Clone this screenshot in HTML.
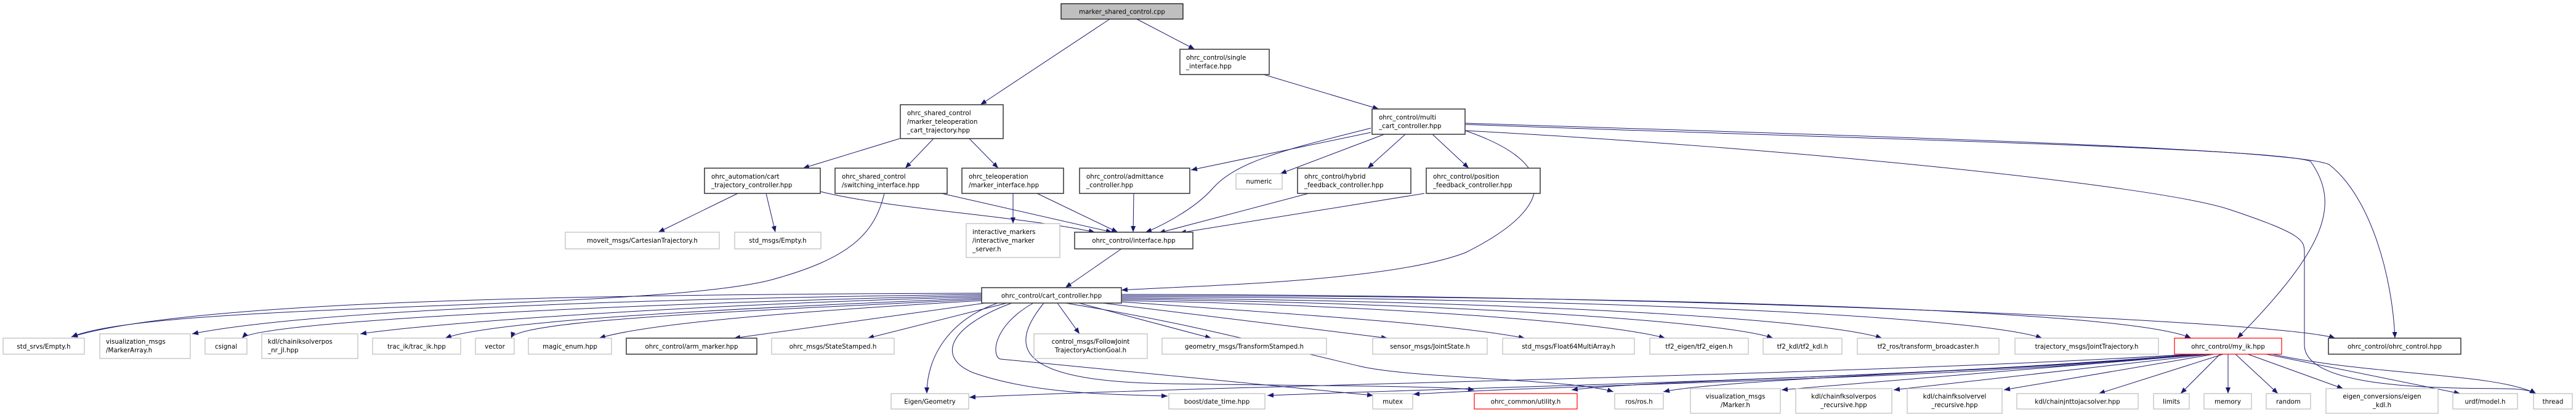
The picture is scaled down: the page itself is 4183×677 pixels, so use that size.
<!DOCTYPE html>
<html><head><meta charset="utf-8"><style>
html,body{margin:0;padding:0;background:#fff;}
svg{display:block;}
text{font-family:"DejaVu Sans","Liberation Sans",sans-serif;font-size:10.3px;fill:#000;}
.c{text-anchor:middle;}
.g{fill:#fff;stroke:#bfbfbf;stroke-width:1.3;}
.b{fill:#fff;stroke:#404040;stroke-width:1.6;}
.r{fill:#fff;stroke:#ff0000;stroke-width:1.2;}
.e{fill:none;stroke:#191970;stroke-width:1;}
</style></head><body>
<svg width="4183" height="677" viewBox="0 0 4183 677" xmlns="http://www.w3.org/2000/svg">
<defs><marker id="a" markerUnits="userSpaceOnUse" markerWidth="11" markerHeight="8" refX="10" refY="4" orient="auto"><path d="M0,0 L10,4 L0,8 z" fill="#191970"/></marker></defs>
<g class="e" marker-end="url(#a)">
<path d="M1802,31 L1592,170"/>
<path d="M1846,31 L1940,80"/>
<path d="M2052,121 L2239,177"/>
<path d="M1461,225 L1304,273"/>
<path d="M1516,225 L1470,273"/>
<path d="M1574,225 L1621,273"/>
<path d="M1198,314 L1069,377"/>
<path d="M1244,314 L1259,377"/>
<path d="M1332,311 C1450,340 1650,350 1778,377"/>
<path d="M1529,314 L1806,377"/>
<path d="M1436,314 C1420,380 1380,420 1250,455 C1050,505 250,490 116,547"/>
<path d="M1645,314 L1645,363"/>
<path d="M1684,314 L1815,377"/>
<path d="M1841,314 L1840,377"/>
<path d="M2226,215 L1934,276"/>
<path d="M2226,208 C2100,240 2010,260 1970,305 C1940,340 1880,370 1860,377"/>
<path d="M2248,218 L2079,282"/>
<path d="M2282,218 L2221,273"/>
<path d="M2326,218 L2385,273"/>
<path d="M2125,314 L1882,378"/>
<path d="M2313,314 L1916,378"/>
<path d="M2379,212 C2520,260 2540,330 2380,410 C2250,460 1900,465 1821,471"/>
<path d="M1821,404 L1730,467"/>
<path d="M2379,200 C3000,220 3720,240 3782,267 C3850,320 3885,450 3889,549"/>
<path d="M2379,202 C3000,225 3700,240 3752,262 C3800,330 3780,400 3633,549"/>
<path d="M2379,212 C2900,240 3500,300 3620,340 C3740,380 3742,390 3742,410 L3742,560 C3742,620 3900,628 3990,630 C4060,632 4100,628 4118,639"/>
<path d="M1594,476 C900,478 300,490 116,547"/>
<path d="M1594,478 C1000,485 500,505 312,542"/>
<path d="M1594,480 C1100,490 420,520 393,549"/>
<path d="M1594,482 C1100,495 700,525 585,542"/>
<path d="M1594,484 C1200,500 800,520 723,549"/>
<path d="M1594,486 C1200,505 840,520 830,549"/>
<path d="M1594,488 C1300,505 1050,525 973,549"/>
<path d="M1600,492 L1192,549"/>
<path d="M1635,492 L1409,549"/>
<path d="M1717,492 L1753,542"/>
<path d="M1752,492 L1967,549"/>
<path d="M1790,492 L2253,549"/>
<path d="M1821,490 C2100,510 2350,525 2476,549"/>
<path d="M1821,488 C2200,495 2600,520 2704,549"/>
<path d="M1821,486 C2300,490 2800,520 2879,549"/>
<path d="M1821,484 C2400,487 2950,515 3056,549"/>
<path d="M1821,482 C2500,482 3200,510 3316,549"/>
<path d="M1821,480 C2600,480 3450,500 3558,549"/>
<path d="M1821,478 C2700,478 3700,520 3792,549"/>
<path d="M1620,492 C1540,520 1505,580 1505,639"/>
<path d="M1643,492 C1540,530 1520,580 1580,605 C1680,640 1800,640 1896,643"/>
<path d="M1678,492 C1610,530 1610,580 1625,583 L2230,642"/>
<path d="M1695,492 C1640,560 1640,620 1900,623 C2200,627 2350,627 2394,633"/>
<path d="M1730,492 C1900,520 1980,540 2210,595 C2300,615 2550,615 2620,636"/>
<path d="M3560,575 C3000,610 2000,625 1574,645"/>
<path d="M3565,575 C3100,615 2500,625 2058,642"/>
<path d="M3570,575 C3200,615 2600,622 2295,640"/>
<path d="M3575,575 C3200,610 2700,615 2552,633"/>
<path d="M3580,575 C3300,600 2800,615 2701,636"/>
<path d="M3585,575 L2893,633"/>
<path d="M3590,575 L3075,633"/>
<path d="M3595,575 L3254,633"/>
<path d="M3610,575 L3408,639"/>
<path d="M3605,575 L3541,639"/>
<path d="M3618,575 L3618,639"/>
<path d="M3630,575 L3699,639"/>
<path d="M3650,575 L3805,631"/>
<path d="M3680,575 L3995,639"/>
<path d="M3690,575 C3850,610 4050,605 4118,639"/>
</g>
<!-- nodes -->
<rect x="1723" y="6" width="198" height="25" fill="#bfbfbf" stroke="#000" stroke-width="1.2"/><text class="c" x="1822" y="22.5">marker_shared_control.cpp</text>
<rect class="b" x="1916" y="80" width="145" height="41"/><text x="1926" y="97">ohrc_control/single</text><text x="1926" y="111">_interface.hpp</text>
<rect class="b" x="1462" y="170" width="167" height="55"/><text x="1473" y="187">ohrc_shared_control</text><text x="1473" y="201">/marker_teleoperation</text><text x="1473" y="215">_cart_trajectory.hpp</text>
<rect class="b" x="2228" y="177" width="151" height="41"/><text x="2239" y="194">ohrc_control/multi</text><text x="2239" y="208">_cart_controller.hpp</text>
<rect class="b" x="1144" y="273" width="188" height="41"/><text x="1155" y="290">ohrc_automation/cart</text><text x="1155" y="304">_trajectory_controller.hpp</text>
<rect class="b" x="1356" y="273" width="182" height="41"/><text x="1367" y="290">ohrc_shared_control</text><text x="1367" y="304">/switching_interface.hpp</text>
<rect class="b" x="1562" y="273" width="165" height="41"/><text x="1573" y="290">ohrc_teleoperation</text><text x="1573" y="304">/marker_interface.hpp</text>
<rect class="b" x="1753" y="273" width="179" height="41"/><text x="1764" y="290">ohrc_control/admittance</text><text x="1764" y="304">_controller.hpp</text>
<rect class="g" x="2007" y="282" width="75" height="25"/><text class="c" x="2044.5" y="298">numeric</text>
<rect class="b" x="2107" y="273" width="184" height="41"/><text x="2118" y="290">ohrc_control/hybrid</text><text x="2118" y="304">_feedback_controller.hpp</text>
<rect class="b" x="2316" y="273" width="185" height="41"/><text x="2327" y="290">ohrc_control/position</text><text x="2327" y="304">_feedback_controller.hpp</text>
<rect class="g" x="918" y="377" width="250" height="27"/><text class="c" x="1043" y="394">moveit_msgs/CartesianTrajectory.h</text>
<rect class="g" x="1193" y="377" width="140" height="27"/><text class="c" x="1263" y="394">std_msgs/Empty.h</text>
<rect class="g" x="1569" y="363" width="152" height="55"/><text x="1579" y="380">interactive_markers</text><text x="1579" y="394">/interactive_marker</text><text x="1579" y="408">_server.h</text>
<rect class="b" x="1745" y="377" width="192" height="27"/><text class="c" x="1841" y="394">ohrc_control/interface.hpp</text>
<rect class="b" x="1594" y="467" width="227" height="25"/><text class="c" x="1707.5" y="483.5">ohrc_control/cart_controller.hpp</text>
<!-- row 1 -->
<rect class="g" x="5" y="549" width="132" height="26"/><text class="c" x="71" y="566">std_srvs/Empty.h</text>
<rect class="g" x="162" y="542" width="147" height="40"/><text x="172" y="558">visualization_msgs</text><text x="172" y="572">/MarkerArray.h</text>
<rect class="g" x="333" y="549" width="68" height="26"/><text class="c" x="367" y="566">csignal</text>
<rect class="g" x="425" y="542" width="156" height="40"/><text x="435" y="558">kdl/chainiksolverpos</text><text x="435" y="572">_nr_jl.hpp</text>
<rect class="g" x="605" y="549" width="143" height="26"/><text class="c" x="676.5" y="566">trac_ik/trac_ik.hpp</text>
<rect class="g" x="772" y="549" width="63" height="26"/><text class="c" x="803.5" y="566">vector</text>
<rect class="g" x="858" y="549" width="135" height="26"/><text class="c" x="925.5" y="566">magic_enum.hpp</text>
<rect class="b" x="1017" y="549" width="212" height="26"/><text class="c" x="1123" y="566">ohrc_control/arm_marker.hpp</text>
<rect class="g" x="1253" y="549" width="199" height="26"/><text class="c" x="1352.5" y="566">ohrc_msgs/StateStamped.h</text>
<rect class="g" x="1679" y="542" width="184" height="40"/><text class="c" x="1771" y="558">control_msgs/FollowJoint</text><text class="c" x="1771" y="572">TrajectoryActionGoal.h</text>
<rect class="g" x="1887" y="549" width="267" height="26"/><text class="c" x="2020.5" y="566">geometry_msgs/TransformStamped.h</text>
<rect class="g" x="2229" y="549" width="186" height="26"/><text class="c" x="2322" y="566">sensor_msgs/JointState.h</text>
<rect class="g" x="2440" y="549" width="214" height="26"/><text class="c" x="2547" y="566">std_msgs/Float64MultiArray.h</text>
<rect class="g" x="2679" y="549" width="160" height="26"/><text class="c" x="2759" y="566">tf2_eigen/tf2_eigen.h</text>
<rect class="g" x="2863" y="549" width="128" height="26"/><text class="c" x="2927" y="566">tf2_kdl/tf2_kdl.h</text>
<rect class="g" x="3016" y="549" width="230" height="26"/><text class="c" x="3131" y="566">tf2_ros/transform_broadcaster.h</text>
<rect class="g" x="3272" y="549" width="233" height="26"/><text class="c" x="3388.5" y="566">trajectory_msgs/JointTrajectory.h</text>
<rect class="r" x="3531" y="549" width="174" height="26"/><text class="c" x="3618" y="566">ohrc_control/my_ik.hpp</text>
<rect class="b" x="3781" y="549" width="215" height="26"/><text class="c" x="3888.5" y="566">ohrc_control/ohrc_control.hpp</text>
<!-- row 2 -->
<rect class="g" x="1447" y="639" width="126" height="25"/><text class="c" x="1510" y="655.5">Eigen/Geometry</text>
<rect class="g" x="1898" y="639" width="156" height="25"/><text class="c" x="1976" y="655.5">boost/date_time.hpp</text>
<rect class="g" x="2229" y="639" width="65" height="25"/><text class="c" x="2261.5" y="655.5">mutex</text>
<rect class="r" x="2394" y="639" width="167" height="25"/><text class="c" x="2477.5" y="655.5">ohrc_common/utility.h</text>
<rect class="g" x="2622" y="639" width="79" height="25"/><text class="c" x="2661.5" y="655.5">ros/ros.h</text>
<rect class="g" x="2745" y="631" width="146" height="40"/><text class="c" x="2818" y="647">visualization_msgs</text><text class="c" x="2818" y="661">/Marker.h</text>
<rect class="g" x="2916" y="631" width="156" height="40"/><text class="c" x="2994" y="647">kdl/chainfksolverpos</text><text class="c" x="2994" y="661">_recursive.hpp</text>
<rect class="g" x="3097" y="631" width="154" height="40"/><text class="c" x="3174" y="647">kdl/chainfksolvervel</text><text class="c" x="3174" y="661">_recursive.hpp</text>
<rect class="g" x="3275" y="639" width="197" height="25"/><text class="c" x="3373.5" y="655.5">kdl/chainjnttojacsolver.hpp</text>
<rect class="g" x="3497" y="639" width="58" height="25"/><text class="c" x="3526" y="655.5">limits</text>
<rect class="g" x="3579" y="639" width="77" height="25"/><text class="c" x="3617.5" y="655.5">memory</text>
<rect class="g" x="3680" y="639" width="72" height="25"/><text class="c" x="3716" y="655.5">random</text>
<rect class="g" x="3777" y="631" width="182" height="40"/><text class="c" x="3868" y="647">eigen_conversions/eigen</text><text class="c" x="3868" y="661">_kdl.h</text>
<rect class="g" x="3983" y="639" width="105" height="25"/><text class="c" x="4035.5" y="655.5">urdf/model.h</text>
<rect class="g" x="4114" y="639" width="63" height="25"/><text class="c" x="4145.5" y="655.5">thread</text>
</svg>
</body></html>
